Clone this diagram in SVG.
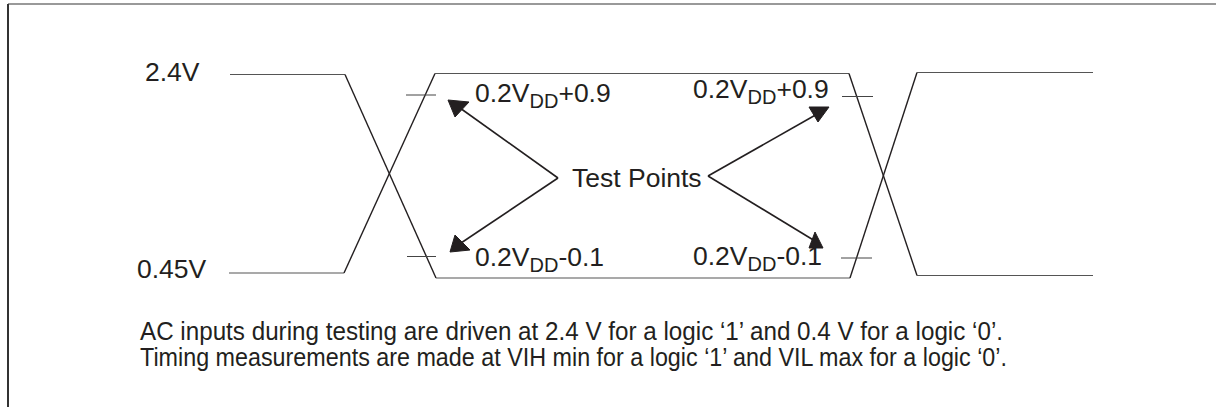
<svg xmlns="http://www.w3.org/2000/svg" width="1216" height="407" viewBox="0 0 1216 407">
<style>
text{font-family:"Liberation Sans",Arial,sans-serif;fill:#231f20}
.lbl{font-size:26.5px}
.sub{font-size:20px}
.note{font-size:25.5px}
.wave{stroke:#231f20;stroke-width:1.4;fill:none}
.lvl{stroke:#555;stroke-width:1.2;fill:none}
.tick{stroke:#444;stroke-width:1;fill:none}
.arr{stroke:#231f20;stroke-width:1.6;fill:none}
.head{fill:#231f20;stroke:#231f20;stroke-width:1;stroke-linejoin:round}
</style>
<rect width="1216" height="407" fill="#fff"/>
<g id="frame">
<line x1="8" y1="4" x2="1216" y2="4" stroke="#999" stroke-width="2"/>
<line x1="8" y1="4" x2="8" y2="407" stroke="#333" stroke-width="2"/>
</g>
<g id="waveform">
<line class="lvl" x1="230" y1="74.5" x2="345" y2="74.5"/>
<line class="lvl" x1="229" y1="273" x2="344" y2="273"/>
<line class="wave" x1="345" y1="74.5" x2="436" y2="278"/>
<line class="wave" x1="344" y1="273" x2="435" y2="73.5"/>
<line class="lvl" x1="435" y1="73.5" x2="849" y2="73.5"/>
<line class="lvl" x1="436" y1="278" x2="850" y2="278"/>
<line class="wave" x1="849" y1="73.5" x2="917" y2="275.5"/>
<line class="wave" x1="850" y1="278" x2="917" y2="72.5"/>
<line class="lvl" x1="917" y1="72.5" x2="1093" y2="72.5"/>
<line class="lvl" x1="917" y1="275.5" x2="1093" y2="275.5"/>
</g>
<g id="ticks">
<line class="tick" x1="406" y1="95" x2="436" y2="95"/>
<line class="tick" x1="407" y1="256.5" x2="436" y2="256.5"/>
<line class="tick" x1="842" y1="96.5" x2="873" y2="96.5"/>
<line class="tick" x1="841" y1="258" x2="872" y2="258"/>
</g>
<g id="label-2v4"><text class="lbl" x="145" y="81">2.4V</text></g>
<g id="label-0v45"><text class="lbl" x="137" y="278">0.45V</text></g>
<g id="label-tl"><text class="lbl" x="475" y="102">0.2V<tspan class="sub" dy="6">DD</tspan><tspan dy="-6">+0.9</tspan></text></g>
<g id="label-bl"><text class="lbl" x="475" y="266">0.2V<tspan class="sub" dy="6">DD</tspan><tspan dy="-6">-0.1</tspan></text></g>
<g id="label-tr"><text class="lbl" x="693" y="98">0.2V<tspan class="sub" dy="6">DD</tspan><tspan dy="-6">+0.9</tspan></text></g>
<g id="label-br"><text class="lbl" x="693" y="265">0.2V<tspan class="sub" dy="6">DD</tspan><tspan dy="-6">-0.1</tspan></text></g>
<g id="test-points"><text class="lbl" x="572" y="187">Test Points</text></g>
<g id="connectors">
<line class="arr" x1="558" y1="178" x2="460" y2="108"/>
<polygon class="head" points="448,100 469,102 455,117"/>
<line class="arr" x1="558" y1="178" x2="461" y2="243"/>
<polygon class="head" points="450,252 455,235 470,250"/>
<line class="arr" x1="708" y1="176" x2="819" y2="113"/>
<polygon class="head" points="809,107 829,107 818,122"/>
<line class="arr" x1="708" y1="176" x2="815" y2="241"/>
<polygon class="head" points="809,248 823,248 815,232"/>
</g>
<g id="notes">
<text class="note" x="140" y="340" textLength="863" lengthAdjust="spacingAndGlyphs">AC inputs during testing are driven at 2.4 V for a logic ‘1’ and 0.4 V for a logic ‘0’.</text>
<text class="note" x="140" y="366" textLength="867" lengthAdjust="spacingAndGlyphs">Timing measurements are made at VIH min for a logic ‘1’ and VIL max for a logic ‘0’.</text>
</g>
</svg>
